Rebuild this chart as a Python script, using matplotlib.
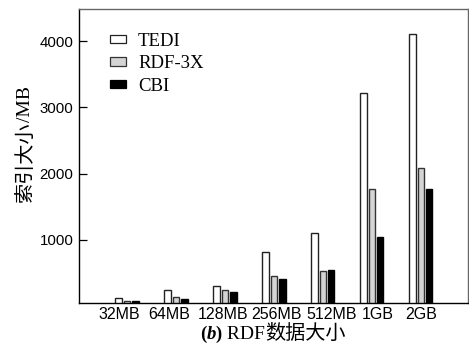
import matplotlib
matplotlib.use("Agg")
import matplotlib.pyplot as plt
import numpy as np
from matplotlib.patches import Patch

categories = ["32MB", "64MB", "128MB", "256MB", "512MB", "1GB", "2GB"]
tedi = [125, 250, 300, 825, 1110, 3225, 4110]
rdf3x = [80, 140, 240, 460, 535, 1765, 2080]
cbi = [75, 115, 220, 415, 550, 1040, 1770]
yticks = [1000, 2000, 3000, 4000]
# label shifts (in category units) as placed in the original figure
label_shift = [-0.16, -0.14, -0.04, 0.06, 0.18, 0.12, 0.0]

plt.rcParams['font.family'] = ['Liberation Sans', 'Noto Sans CJK SC']

W, H = 469, 348
fig = plt.figure(figsize=(W/100, H/100), dpi=100)
ax = fig.add_axes([79/W, 1-303.3/H, (468-79)/W, (303.3-9)/H])

x = np.arange(len(categories))
w = 0.14
off = 0.165
ax.bar(x - off, tedi, w, color='white', edgecolor='#222222', linewidth=1.0)
ax.bar(x, rdf3x, w, color='#d4d4d4', edgecolor='#333333', linewidth=1.0)
ax.bar(x + off, cbi, w, color='black', edgecolor='black', linewidth=1.0)

ax.set_xlim(-0.98, 6.96)
ax.set_ylim(45, 4485)
ax.set_yticks(yticks)
ax.set_yticklabels([str(v) for v in yticks], fontsize=10.8)
ax.set_xticks(x + np.array(label_shift))
ax.set_xticklabels(categories, fontsize=11.5)
ax.tick_params(axis='y', direction='in', length=6, width=0.9, pad=4)
ax.tick_params(axis='x', length=0, pad=3)
for s in ['left', 'bottom']:
    ax.spines[s].set_color('black')
    ax.spines[s].set_linewidth(1.0)
for s in ['top', 'right']:
    ax.spines[s].set_color('#666666')
    ax.spines[s].set_linewidth(1.0)

handles = [Patch(facecolor='white', edgecolor='#222222', linewidth=0.9),
           Patch(facecolor='#d4d4d4', edgecolor='#333333', linewidth=0.9),
           Patch(facecolor='black', edgecolor='black', linewidth=0.9)]
ax.legend(handles, ['TEDI', 'RDF-3X', 'CBI'], loc='upper left',
          bbox_to_anchor=(0.06, 0.945), frameon=False,
          prop={'family': 'Liberation Serif', 'size': 13.5},
          handlelength=0.85, handleheight=0.3, handletextpad=0.65,
          labelspacing=0.3, borderaxespad=0)

renderer = fig.canvas.get_renderer()

# y label "索引大小/MB" assembled from pieces (bottom to top)
ypos = 202
for txt, fam, size in [('索引大小', 'Noto Sans CJK SC', 14.5), ('/MB', 'Liberation Serif', 14)]:
    t = fig.text(25/W, 1 - ypos/H, txt, rotation=90, ha='center', va='bottom',
                 fontsize=size, family=fam)
    bb = t.get_window_extent(renderer)
    ypos -= bb.height

# x label "(b) RDF数据大小" assembled from pieces
pieces = [('(', 'normal', 'bold', 'Liberation Serif', 13.5),
          ('b', 'italic', 'bold', 'Liberation Serif', 13.5),
          (')', 'normal', 'bold', 'Liberation Serif', 13.5),
          (' RDF', 'normal', 'normal', 'Liberation Serif', 14),
          ('数据大小', 'normal', 'normal', 'Noto Sans CJK SC', 14.5)]
xpos = 200
ybase = 1 - 339/H
for txt, st, wt, fam, size in pieces:
    t = fig.text(xpos/W, ybase, txt, ha='left', va='baseline', fontsize=size,
                 style=st, weight=wt, family=fam)
    bb = t.get_window_extent(renderer)
    xpos += bb.width

fig.savefig('out.png', dpi=100)
